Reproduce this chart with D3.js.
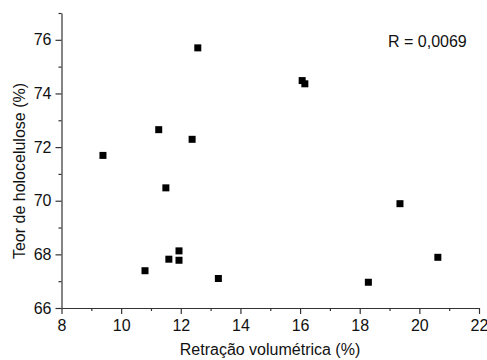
<!DOCTYPE html>
<html>
<head>
<meta charset="utf-8">
<script src="https://cdn.jsdelivr.net/npm/d3@7"></script>
<style>
  body { margin: 0; background: #fff; }
  svg { display: block; font-family: "Liberation Sans", Arial, sans-serif; }
</style>
</head>
<body>
<svg id="chart"></svg>
<script>
// retração volumétrica (%) vs teor de holocelulose (%)
const retracao = [9.39, 11.26, 12.57, 16.07, 16.16, 12.38, 11.50, 10.80, 11.60, 11.94, 11.94, 13.26, 19.35, 20.62, 18.29];
const holocelulose = [71.69, 72.65, 75.70, 74.48, 74.36, 72.29, 70.48, 67.39, 67.82, 68.13, 67.78, 67.10, 69.89, 67.89, 66.96];
const xTicks = [8, 10, 12, 14, 16, 18, 20, 22];
const yTicks = [66, 68, 70, 72, 74, 76];

const width = 487;
const height = 360;
const margin = { top: 13, right: 8, bottom: 52, left: 61.5 };

const svg = d3.select("#chart").attr("width", width).attr("height", height);

const x = d3.scaleLinear().domain([8, 22]).range([margin.left, width - margin.right]);
const y = d3.scaleLinear().domain([66, 77]).range([height - margin.bottom, margin.top]);

const points = retracao.map((d, i) => ({ x: d, y: holocelulose[i] }));

// minor ticks
const xMinor = d3.range(9, 22, 2);
const yMinor = d3.range(67, 78, 2);

svg.append("g")
  .attr("transform", `translate(0,${y(66)})`)
  .call(d3.axisBottom(x).tickValues(xTicks).tickSize(6).tickPadding(6).tickSizeOuter(0));
svg.append("g")
  .attr("transform", `translate(0,${y(66)})`)
  .call(d3.axisBottom(x).tickValues(xMinor).tickSize(3).tickFormat("").tickSizeOuter(0))
  .select(".domain").remove();

svg.append("g")
  .attr("transform", `translate(${x(8)},0)`)
  .call(d3.axisLeft(y).tickValues(yTicks).tickSize(6).tickPadding(4).tickSizeOuter(0));
svg.append("g")
  .attr("transform", `translate(${x(8)},0)`)
  .call(d3.axisLeft(y).tickValues(yMinor).tickSize(3).tickFormat("").tickSizeOuter(0))
  .select(".domain").remove();

svg.selectAll(".domain").attr("stroke", "#333").attr("stroke-width", 1.2);
svg.selectAll(".tick line").attr("stroke", "#333").attr("stroke-width", 1.2);
svg.selectAll(".tick text")
  .attr("fill", "#111")
  .style("font-size", "16px")
  .style("font-family", "Liberation Sans, Arial, sans-serif");

// points
svg.selectAll(".pt")
  .data(points)
  .enter()
  .append("rect")
  .attr("class", "pt")
  .attr("x", (d) => x(d.x) - 3.5)
  .attr("y", (d) => y(d.y) - 3.5)
  .attr("width", 7)
  .attr("height", 7)
  .attr("fill", "#000");

// axis titles
svg.append("text")
  .attr("x", 270)
  .attr("y", 355)
  .attr("text-anchor", "middle")
  .style("font-size", "16px")
  .style("fill", "#111")
  .text("Retração volumétrica (%)");

svg.append("text")
  .attr("transform", "translate(25,171) rotate(-90)")
  .attr("text-anchor", "middle")
  .style("font-size", "16px")
  .style("fill", "#111")
  .text("Teor de holocelulose (%)");

svg.append("text")
  .attr("x", 388)
  .attr("y", 47)
  .style("font-size", "16px")
  .style("fill", "#111")
  .text("R = 0,0069");
</script>
</body>
</html>
